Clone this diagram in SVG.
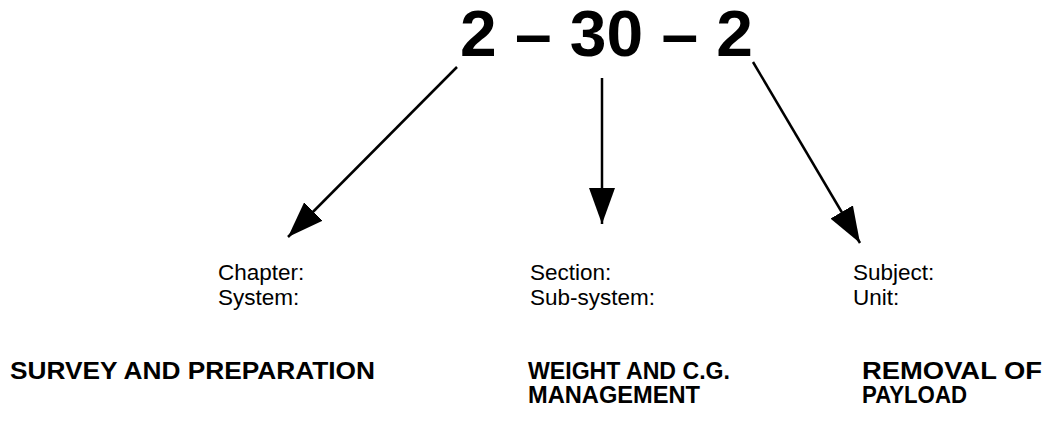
<svg xmlns="http://www.w3.org/2000/svg" width="1053" height="425" viewBox="0 0 1053 425">
<defs>
<marker id="ah" viewBox="0 0 36 26" refX="36" refY="13" markerWidth="36" markerHeight="26" markerUnits="userSpaceOnUse" orient="auto">
<path d="M0,0 L36,13 L0,26 Z" fill="#000"/>
</marker>
</defs>
<style>
.t{font-family:"Liberation Sans",Arial,sans-serif;fill:#000}
.title{font-size:64px;font-weight:bold}
.lbl{font-size:22.5px}
.b{font-size:23.5px;font-weight:bold}
.c{stroke:#000;stroke-width:2.5;fill:none}
</style>
<rect width="1053" height="425" fill="#fff"/>
<g id="code">
<text class="t title" x="460" y="56" textLength="293" lengthAdjust="spacingAndGlyphs">2 – 30 – 2</text>
</g>
<g id="connectors">
<line class="c" x1="457" y1="67" x2="288" y2="237" marker-end="url(#ah)"/>
<line class="c" x1="602" y1="78" x2="602" y2="224" marker-end="url(#ah)"/>
<line class="c" x1="753" y1="62" x2="860" y2="243" marker-end="url(#ah)"/>
</g>
<g id="chapter">
<text class="t lbl" x="218" y="280">Chapter:</text>
<text class="t lbl" x="218" y="305">System:</text>
<text class="t b" x="10" y="379" textLength="365" lengthAdjust="spacingAndGlyphs">SURVEY AND PREPARATION</text>
</g>
<g id="section">
<text class="t lbl" x="530" y="280">Section:</text>
<text class="t lbl" x="530" y="305">Sub-system:</text>
<text class="t b" x="528" y="379" textLength="202" lengthAdjust="spacingAndGlyphs">WEIGHT AND C.G.</text>
<text class="t b" x="528" y="403" textLength="172" lengthAdjust="spacingAndGlyphs">MANAGEMENT</text>
</g>
<g id="subject">
<text class="t lbl" x="853" y="280">Subject:</text>
<text class="t lbl" x="853" y="305">Unit:</text>
<text class="t b" x="862" y="379" textLength="180" lengthAdjust="spacingAndGlyphs">REMOVAL OF</text>
<text class="t b" x="862" y="403" textLength="105" lengthAdjust="spacingAndGlyphs">PAYLOAD</text>
</g>
</svg>
